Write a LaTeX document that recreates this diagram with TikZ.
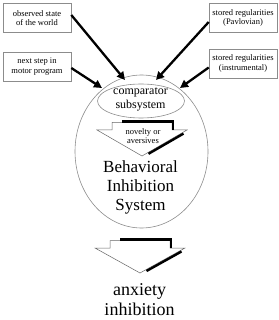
\documentclass[tikz,border=0pt]{standalone}
\usepackage{fontspec}
\setmainfont{Liberation Serif}
\usetikzlibrary{arrows.meta,shapes.geometric}
\begin{document}
\begin{tikzpicture}[x=1pt,y=-1pt,
  inbox/.style={draw=black!45, line width=0.6pt, fill=white, align=center, minimum width=68pt, minimum height=29pt, inner sep=1pt, font=\fontsize{8.5}{9.5}\selectfont},
  arr/.style={line width=2.3pt, -{Triangle[length=8pt,width=8pt]}, shorten >=0pt},
  ring/.style={draw=black!45, line width=0.6pt},
  chevbox/.style={fill=white, draw=black!60, line width=0.5pt},
  shade/.style={line width=2.4pt, black}
]
\useasboundingbox (0,0) rectangle (278,320);

% input boxes
\node[inbox] (obs) at (37,18) {observed state\\of the world};
\node[inbox] (mot) at (37,66.5) {next step in\\motor program};
\node[inbox] (pav) at (243,18) {stored regularities\\(Pavlovian)};
\node[inbox] (ins) at (243,63.5) {stored regularities\\(instrumental)};

% BIS circle and comparator
\node[ring, ellipse, minimum width=133pt, minimum height=153pt, inner sep=0pt] (bis) at (141.5,151.5) {};
\node[ring, ellipse, minimum width=87pt, minimum height=34pt, inner sep=0pt] (cmp) at (141,101) {};
\node[font=\fontsize{12}{14}\selectfont, align=center] (cmptext) at (140.5,99.5) {comparator\\subsystem};

% arrows
\coordinate (t1) at (125,80);
\coordinate (t2) at (102,88);
\coordinate (t3) at (156,80);
\coordinate (t4) at (180,88);
\draw[arr] ([yshift=3pt]obs.east) -- (t1);
\draw[arr] ([yshift=-1.5pt]mot.east) -- (t2);
\draw[arr] ([yshift=-4pt]pav.west) -- (t3);
\draw[arr] ([yshift=-4pt]ins.west) -- (t4);

% chevron 1
\begin{scope}[shift={(142,130)}]
  \path[chevbox] (-30,-7.5) -- (30,-7.5) -- (30,0) -- (45,0) -- (0,26) -- (-45,0) -- (-30,0) -- cycle;
  \draw[shade] (-20,-8.5) -- (31.2,-8.5) -- (31.2,0);
  \draw[shade] (41.5,3.6) -- (6.5,23.8);
\end{scope}
\node[font=\fontsize{8.5}{8.5}\selectfont, align=center] (nov) at (143,136) {novelty or\\aversives};

\node[font=\fontsize{17}{19}\selectfont, align=center] (bistext) at (140.5,187.5) {Behavioral\\Inhibition\\System};

% chevron 2
\begin{scope}[shift={(140,248)}]
  \path[chevbox] (-30,-7.5) -- (30,-7.5) -- (30,0) -- (45,0) -- (0,25) -- (-45,0) -- (-30,0) -- cycle;
  \draw[shade] (-20,-8.5) -- (31.2,-8.5) -- (31.2,0);
  \draw[shade] (41.5,3.5) -- (6.5,23);
\end{scope}

\node[font=\fontsize{18}{20}\selectfont, align=center, inner sep=1pt] (anx) at (139.5,299.5) {anxiety\\inhibition};
\end{tikzpicture}
\end{document}
